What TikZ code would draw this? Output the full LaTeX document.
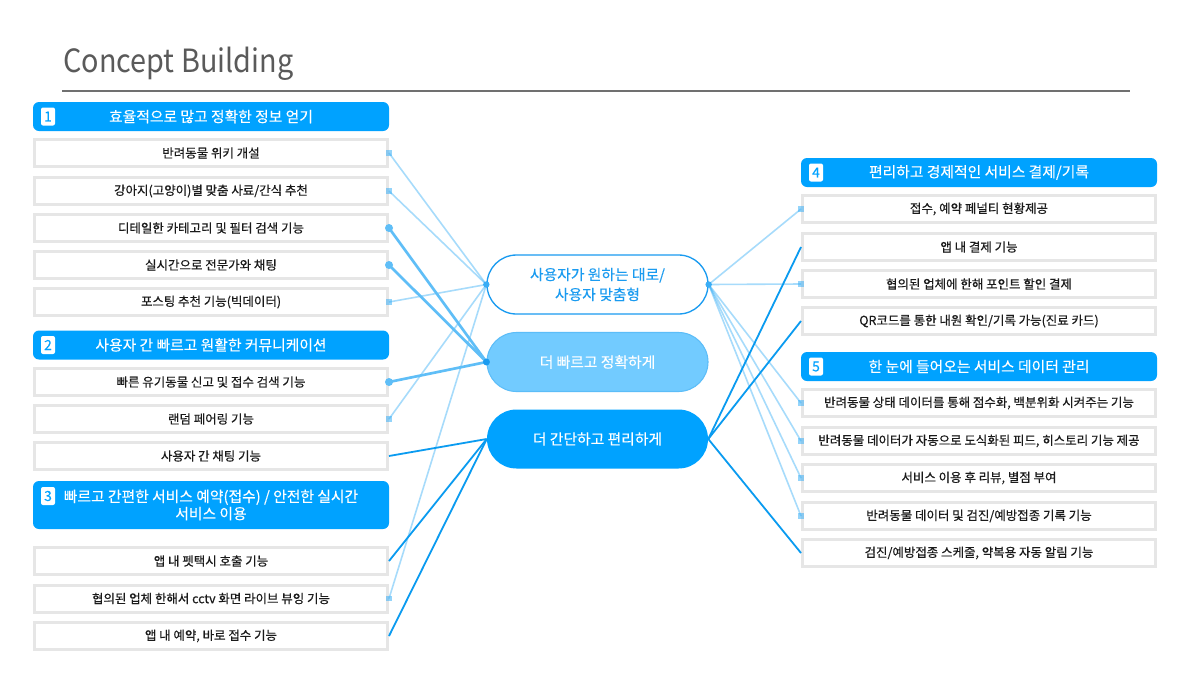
\documentclass[tikz,border=0pt]{standalone}
\usepackage{fontspec}
\setmainfont{Noto Sans CJK KR}
\newfontfamily\titlefont[FakeStretch=0.9]{Noto Sans CJK KR}
\newfontfamily\itemfont[FakeBold=0.45]{Noto Sans CJK KR}
\newfontfamily\hdrfont[FakeBold=0.15]{Noto Sans CJK KR}
\usetikzlibrary{shapes.misc}
\definecolor{hdrblue}{HTML}{00A2FF}
\definecolor{boxgray}{HTML}{E6E6E6}
\definecolor{textblack}{HTML}{1A1A1A}
\definecolor{titlegray}{HTML}{5A5A5A}
\definecolor{lineGray}{HTML}{707070}
\definecolor{pillblue}{HTML}{1A9BF0}
\definecolor{pilllight}{HTML}{72CBFF}
\definecolor{pilllightborder}{HTML}{5CBDF8}
\definecolor{lightc}{HTML}{3DB1F7}
\definecolor{medc}{HTML}{5FBEF7}
\definecolor{darkc}{HTML}{0A9BF0}
\definecolor{dotc}{HTML}{3AADF5}
\newcommand\sqmark[1]{\fill[lightc,opacity=0.55] (#1) ++(-2.6,-2.6) rectangle ++(5.2,5.2);}
\newcommand\dotmark[2]{\fill[#2] (#1) circle[radius=3pt];}
\begin{document}
\begin{tikzpicture}[x=0.75pt,y=-0.75pt,
  itembox/.style={draw=boxgray, line width=2.25pt, fill=white, minimum width=264.75pt, minimum height=20.25pt, inner sep=0pt, font=\itemfont\fontsize{9.35}{11}\selectfont, text=textblack},
  hdrbox/.style={fill=hdrblue, rounded corners=4.5pt, minimum width=267pt, minimum height=21.75pt, inner sep=0pt, text=white, font=\hdrfont\fontsize{11.1}{12.9}\selectfont, align=center},
  badge/.style={fill=white, rounded corners=1.5pt, minimum width=10.5pt, minimum height=13.5pt, inner sep=0pt, text=hdrblue, font=\hdrfont\fontsize{10.5}{12}\selectfont},
  pill/.style={rounded rectangle, minimum width=165.75pt, minimum height=44.25pt, inner sep=0pt, font=\hdrfont\fontsize{11.1}{15}\selectfont, align=center},
  lightln/.style={draw=lightc, draw opacity=0.45, line width=1.2pt},
  medln/.style={draw=medc, line width=2pt},
  darkln/.style={draw=darkc, line width=1.35pt}
]
\useasboundingbox (0,0) rectangle (1196,672);
\fill[white] (0,0) rectangle (1196,672);

% title
\node[anchor=base west, inner sep=0pt, text=titlegray, font=\titlefont\fontsize{24}{30}\selectfont] (title) at (63,72) {Concept Building};
\coordinate (tl1) at (62,91);
\coordinate (tl2) at (1130,91);
\draw[lineGray, line width=1.1pt] (tl1) -- (tl2);

% left column
\node[hdrbox] (h1) at (211,116.5) {효율적으로 많고 정확한 정보 얻기};
\node[badge] (n1) at (48,116.5) {1};
\node[itembox] (a1) at (211,153) {반려동물 위키 개설};
\node[itembox] (a2) at (211,191) {강아지(고양이)별 맞춤 사료/간식 추천};
\node[itembox] (a3) at (211,228) {디테일한 카테고리 및 필터 검색 기능};
\node[itembox] (a4) at (211,265) {실시간으로 전문가와 채팅};
\node[itembox] (a5) at (211,302) {포스팅 추천 기능(빅데이터)};

\node[hdrbox] (h2) at (211,345) {사용자 간 빠르고 원활한 커뮤니케이션};
\node[badge] (n2) at (48,345) {2};
\node[itembox] (b1) at (211,382) {빠른 유기동물 신고 및 접수 검색 기능};
\node[itembox] (b2) at (211,419) {랜덤 페어링 기능};
\node[itembox] (b3) at (211,456) {사용자 간 채팅 기능};

\node[hdrbox, minimum height=36pt] (h3) at (211,505) {빠르고 간편한 서비스 예약(접수) / 안전한 실시간\\서비스 이용};
\node[badge] (n3) at (48,496) {3};
\node[itembox] (c1) at (211,561) {앱 내 펫택시 호출 기능};
\node[itembox] (c2) at (211,598.5) {협의된 업체 한해서 cctv 화면 라이브 뷰잉 기능};
\node[itembox] (c3) at (211,636) {앱 내 예약, 바로 접수 기능};

% right column
\node[hdrbox] (h4) at (979,172.5) {편리하고 경제적인 서비스 결제/기록};
\node[badge] (n4) at (816,172.5) {4};
\node[itembox] (d1) at (979,209) {접수, 예약 페널티 현황제공};
\node[itembox] (d2) at (979,247) {앱 내 결제 기능};
\node[itembox] (d3) at (979,284) {협의된 업체에 한해 포인트 할인 결제};
\node[itembox] (d4) at (979,321) {QR코드를 통한 내원 확인/기록 가능(진료 카드)};

\node[hdrbox] (h5) at (979,366.5) {한 눈에 들어오는 서비스 데이터 관리};
\node[badge] (n5) at (816,366.5) {5};
\node[itembox] (e1) at (979,403) {반려동물 상태 데이터를 통해 점수화, 백분위화 시켜주는 기능};
\node[itembox] (e2) at (979,441) {반려동물 데이터가 자동으로 도식화된 피드, 히스토리 기능 제공};
\node[itembox] (e3) at (979,478) {서비스 이용 후 리뷰, 별점 부여};
\node[itembox] (e4) at (979,516) {반려동물 데이터 및 검진/예방접종 기록 기능};
\node[itembox] (e5) at (979,553) {검진/예방접종 스케줄, 약복용 자동 알림 기능};

% centre pills
\node[pill, draw=pillblue, line width=1pt, fill=white, text=pillblue] (pA) at (597.5,284.5) {사용자가 원하는 대로/\\사용자 맞춤형};
\node[pill, draw=pilllightborder, line width=0.8pt, fill=pilllight, text=white] (pB) at (597.5,362) {더 빠르고 정확하게};
\node[pill, fill=hdrblue, text=white] (pC) at (597.5,439) {더 간단하고 편리하게};

% connectors left
\draw[lightln] (a1.east) -- (pA.west);
\draw[lightln] (a2.east) -- (pA.west);
\draw[lightln] (a5.east) -- (pA.west);
\draw[lightln] (b2.east) -- (pA.west);
\draw[lightln] (c2.east) -- (pA.west);
\draw[medln] (a3.east) -- (pB.west);
\draw[medln] (a4.east) -- (pB.west);
\draw[medln] (b1.east) -- (pB.west);
\draw[darkln] (b3.east) -- (pC.west);
\draw[darkln] (c1.east) -- (pC.west);
\draw[darkln] (c3.east) -- (pC.west);

% connectors right
\draw[lightln] (pA.east) -- (d1.west);
\draw[lightln] (pA.east) -- (d3.west);
\draw[lightln] (pA.east) -- (e1.west);
\draw[lightln] (pA.east) -- (e2.west);
\draw[lightln] (pA.east) -- (e3.west);
\draw[lightln] (pA.east) -- (e4.west);
\draw[darkln] (pC.east) -- (d2.west);
\draw[darkln] (pC.east) -- (d4.west);
\draw[darkln] (pC.east) -- (e5.west);

% markers
\sqmark{a1.east}
\sqmark{a2.east}
\sqmark{a5.east}
\sqmark{b2.east}
\sqmark{c2.east}
\sqmark{d1.west}
\sqmark{d3.west}
\sqmark{e1.west}
\sqmark{e2.west}
\sqmark{e3.west}
\sqmark{e4.west}
\dotmark{a3.east}{medc}
\dotmark{a4.east}{medc}
\dotmark{b1.east}{medc}
\fill[dotc] (pA.west) circle[radius=2.4pt];
\fill[dotc] (pA.east) circle[radius=2.4pt];
\fill[pillblue] (pB.west) circle[radius=2.6pt];
\end{tikzpicture}
\end{document}
